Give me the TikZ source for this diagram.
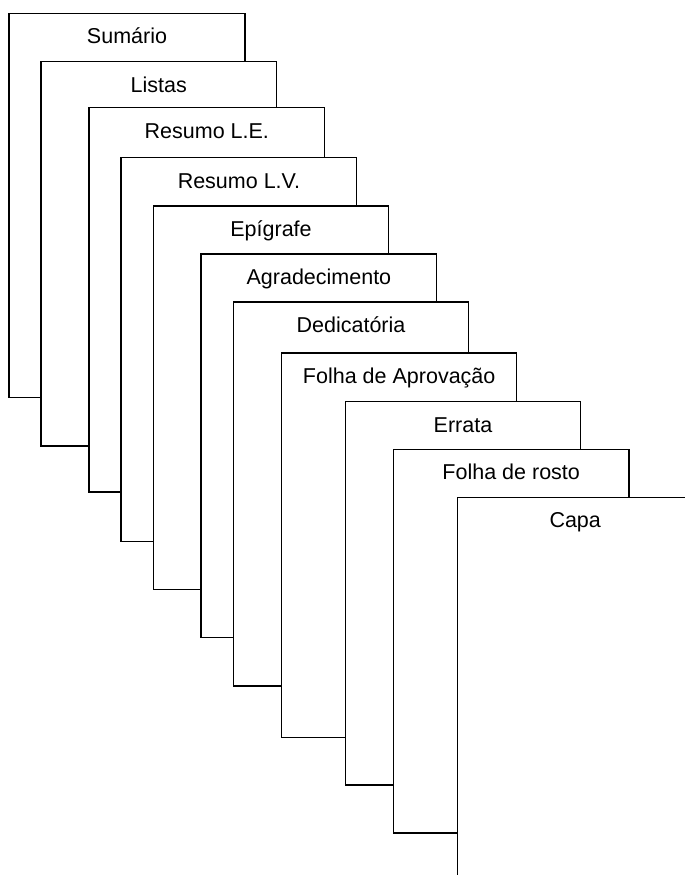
\documentclass[tikz,border=0pt]{standalone}
\usepackage{fontspec}
\setmainfont{Liberation Sans}
\usepackage{tikz}
\tikzstyle{every node}=[font=\fontsize{21.5}{25}\selectfont]

\begin{document}
\begin{tikzpicture}[line cap=butt,line join=miter,x=1pt,y=-1pt]
                \clip(0,0) rectangle (685,875);
                \draw [line width=1.4pt] (41,397.7) -- (9,397.7) -- (9,13.3) -- (245,13.3) -- (245,61.7);
                \draw [line width=1.4pt] (89,446) -- (41,446) -- (41,61.7) -- (276.5,61.7) -- (276.5,107.7);
                \draw [line width=1.4pt] (121,492) -- (89,492) -- (89,107.7) -- (324.5,107.7) -- (324.5,157.7);
                \draw [line width=1.4pt] (153.3,541.7) -- (121,541.7) -- (121,157.7) -- (356.7,157.7) -- (356.7,206);
                \draw [line width=1.4pt] (201,589.7) -- (153.3,589.7) -- (153.3,206) -- (388.7,206) -- (388.7,254);
                \draw [line width=1.4pt] (233.3,637.7) -- (201,637.7) -- (201,254) -- (436.7,254) -- (436.7,302);
                \draw [line width=1.4pt] (281.7,686) -- (233.3,686) -- (233.3,302) -- (468.7,302) -- (468.7,353);
                \draw [line width=1.4pt] (345.3,737.3) -- (281.7,737.3) -- (281.7,353) -- (516.7,353) -- (516.7,401.7);
                \draw [line width=1.4pt] (393.3,785) -- (345.3,785) -- (345.3,401.7) -- (580.7,401.7) -- (580.7,449.3);
                \draw [line width=1.4pt] (457.3,833) -- (393.3,833) -- (393.3,449.3) -- (629,449.3) -- (629,497.3);
                \draw [line width=1.4pt] (457.3,881) -- (457.3,497.3) -- (693,497.3);
                \draw (127,43.8) node [anchor=base] (sumario) {Sumário};
                \draw (158.8,92.2) node [anchor=base] (listas) {Listas};
                \draw (206.8,138.2) node [anchor=base] (resumoLE) {Resumo L.E.};
                \draw (238.9,188.2) node [anchor=base] (resumoLV) {Resumo L.V.};
                \draw (271,236.5) node [anchor=base] (epigrafe) {Epígrafe};
                \draw (318.9,284.5) node [anchor=base] (agradecimento) {Agradecimento};
                \draw (351,332.5) node [anchor=base] (dedicatoria) {Dedicatória};
                \draw (399.2,383.5) node [anchor=base] (aprovacao) {Folha de Aprovação};
                \draw (463,432.2) node [anchor=base] (errata) {Errata};
                \draw (511.2,479.8) node [anchor=base] (rosto) {Folha de rosto};
                \draw (575.2,527.8) node [anchor=base] (capa) {Capa};
            \end{tikzpicture}
\end{document}
